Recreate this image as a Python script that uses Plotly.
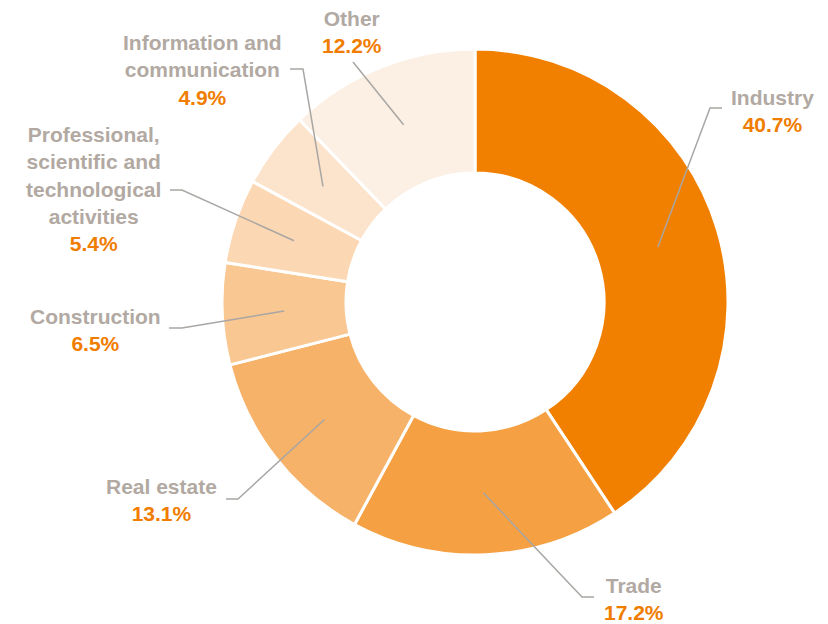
import numpy as np
import plotly.graph_objects as go

W, H = 828, 624
OFF = 8  # page body margin shifts the figure by 8px

sectors = ["Industry", "Trade", "Real estate", "Construction",
           "Professional,<br>scientific and<br>technological<br>activities",
           "Information and<br>communication", "Other"]
shares = [40.7, 17.2, 13.1, 6.5, 5.4, 4.9, 12.2]
colors = ["#F18000", "#F5A043", "#F6B269", "#F9C792", "#FBD8B3", "#FCE4CC", "#FCF0E4"]

# label placement (screen pixels): text centre, elbow of leader line, end of leader line
label_xy = [(772, 111), (634, 599), (161, 500), (95, 330), (93, 189), (202, 70), (352, 32)]
elbow_xy = [(710, 108), (582, 597), (238, 499), (182, 328), (182, 190), (303, 69), (353, 62)]
end_xy = [(722, 108), (594, 597), (226, 499), (169, 328), (170, 190), (290, 69), (353, 62)]

GREY = "#B1A9A2"
ORANGE = "#F07D00"
FONT = "Liberation Sans"

cx, cy, R = 475, 302, 253
hole = 0.51

px = lambda x: (x - OFF) / W
py = lambda y: 1 - (y - OFF) / H

fig = go.Figure(go.Pie(
    labels=[s.replace("<br>", " ") for s in sectors],
    values=shares,
    sort=False,
    direction="clockwise",
    rotation=0,
    hole=hole,
    textinfo="none",
    hoverinfo="label+percent",
    marker=dict(colors=colors, line=dict(color="white", width=3)),
    domain=dict(x=[px(cx - R), px(cx + R)], y=[py(cy + R), py(cy - R)]),
    showlegend=False,
))

# leader lines start at the middle of each ring segment
total = sum(shares)
cum = np.cumsum([0] + shares[:-1])
rm = R * (1 + hole) / 2
shapes = []
annotations = []
for i, v in enumerate(shares):
    ang = np.deg2rad((cum[i] + v / 2) / total * 360)
    sx, sy = cx + rm * np.sin(ang), cy - rm * np.cos(ang)
    ex, ey = elbow_xy[i]
    tx, ty = end_xy[i]
    path = f"M {px(sx)},{py(sy)} L {px(ex)},{py(ey)} L {px(tx)},{py(ty)}"
    shapes.append(dict(type="path", xref="paper", yref="paper", path=path,
                       line=dict(color="#A9A6A3", width=1.5), layer="above"))
    lx, ly = label_xy[i]
    annotations.append(dict(
        x=px(lx), y=py(ly), xref="paper", yref="paper",
        xanchor="center", yanchor="middle", align="center", showarrow=False,
        text=f"{sectors[i]}<br><span style='color:{ORANGE}'>{v:.1f}%</span>",
        font=dict(family=FONT, size=21, color=GREY, weight="bold"),
    ))

fig.update_layout(
    width=W, height=H,
    margin=dict(l=0, r=0, t=0, b=0),
    paper_bgcolor="white", plot_bgcolor="white",
    shapes=shapes, annotations=annotations,
)

fig.write_html("out.html")
